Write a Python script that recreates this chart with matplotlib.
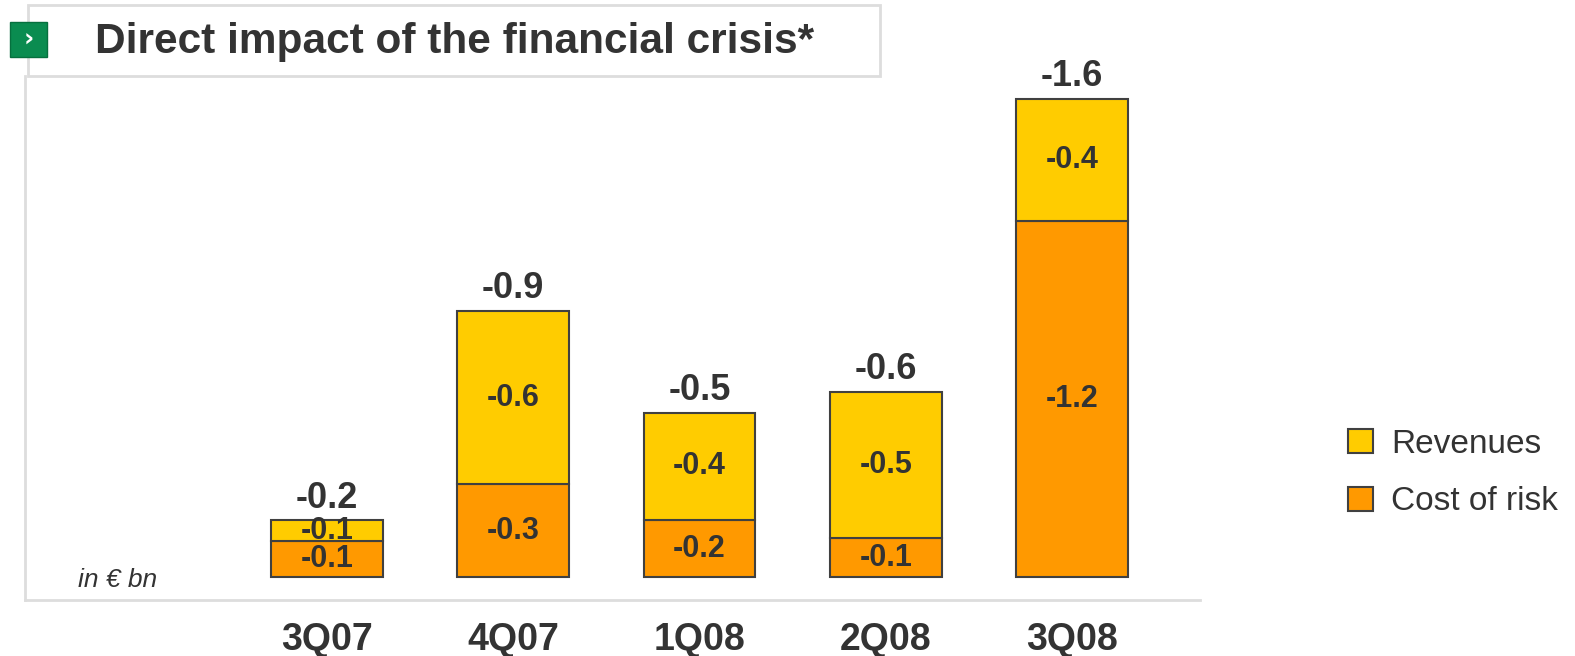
import matplotlib.pyplot as plt
import matplotlib.transforms as mtransforms
from matplotlib.patches import Rectangle

quarters = ["3Q07", "4Q07", "1Q08", "2Q08", "3Q08"]
cost_of_risk = [-0.12, -0.31, -0.19, -0.13, -1.19]
revenues = [-0.07, -0.58, -0.36, -0.49, -0.41]
cost_labels = ["-0.1", "-0.3", "-0.2", "-0.1", "-1.2"]
rev_labels = ["-0.1", "-0.6", "-0.4", "-0.5", "-0.4"]
total_labels = ["-0.2", "-0.9", "-0.5", "-0.6", "-1.6"]

DARK = "#333333"
plt.rcParams["font.family"] = ["Liberation Sans", "DejaVu Sans"]

fig = plt.figure(figsize=(15.75, 6.56), dpi=100)
ax = fig.add_axes([25 / 1575, 56 / 656, 1175 / 1575, 524 / 656])

x = list(range(len(quarters)))
b1 = ax.bar(x, cost_of_risk, width=0.6, color="#FF9900", edgecolor="#404040",
            linewidth=1.5, label="Cost of risk")
b2 = ax.bar(x, revenues, width=0.6, bottom=cost_of_risk, color="#FFCC00",
            edgecolor="#404040", linewidth=1.5, label="Revenues")

ax.set_xlim(-1.62, 4.687)
ax.set_ylim(0.077, -1.676)

# x in data, y in figure coords for category labels
cat_trans = mtransforms.blended_transform_factory(ax.transData, fig.transFigure)

for i in x:
    c = cost_of_risk[i]
    r = revenues[i]
    ax.text(i, c / 2, cost_labels[i], ha="center", va="center", fontsize=22,
            fontweight="bold", color=DARK)
    ax.text(i, c + r / 2, rev_labels[i], ha="center", va="center", fontsize=22,
            fontweight="bold", color=DARK)
    ax.text(i, c + r - 0.015, total_labels[i], ha="center", va="bottom",
            fontsize=26, fontweight="bold", color=DARK)
    ax.text(i, 1 - 640 / 656, quarters[i], transform=cat_trans, ha="center",
            va="center", fontsize=27, fontweight="bold", color=DARK)

ax.set_xticks([])
ax.set_yticks([])
for s in ["top", "right"]:
    ax.spines[s].set_visible(False)
for s in ["left", "bottom"]:
    ax.spines[s].set_color("#DDDDDD")
    ax.spines[s].set_linewidth(2)

fig.text(78 / 1575, 1 - 580 / 656, "in € bn", ha="left", va="center",
         fontsize=19, style="italic", color=DARK)

# title box
fig.patches.append(Rectangle((28 / 1575, 1 - 76 / 656), 852 / 1575, 71 / 656,
                             transform=fig.transFigure, facecolor="white",
                             edgecolor="#DDDDDD", linewidth=2))
fig.patches.append(Rectangle((10 / 1575, 1 - 57 / 656), 37 / 1575, 35 / 656,
                             transform=fig.transFigure, facecolor="#0A8C50",
                             edgecolor="#06703E", linewidth=1))
fig.text(28.5 / 1575, 1 - 40 / 656, "›", ha="center", va="center", fontsize=18,
         color="white", fontweight="bold", family=["DejaVu Sans"])
fig.text(95 / 1575, 1 - 42 / 656, "Direct impact of the financial crisis*",
         ha="left", va="center", fontsize=30.5, fontweight="bold", color=DARK)

fig.legend(handles=[b2, b1], labels=["Revenues", "Cost of risk"],
           loc="center left", bbox_to_anchor=(1318 / 1575, 1 - 473 / 656),
           frameon=False, handlelength=0.75, handleheight=0.75,
           handletextpad=0.55, labelspacing=0.8, labelcolor=DARK,
           prop={"size": 24})

fig.savefig("out.png", dpi=100)
